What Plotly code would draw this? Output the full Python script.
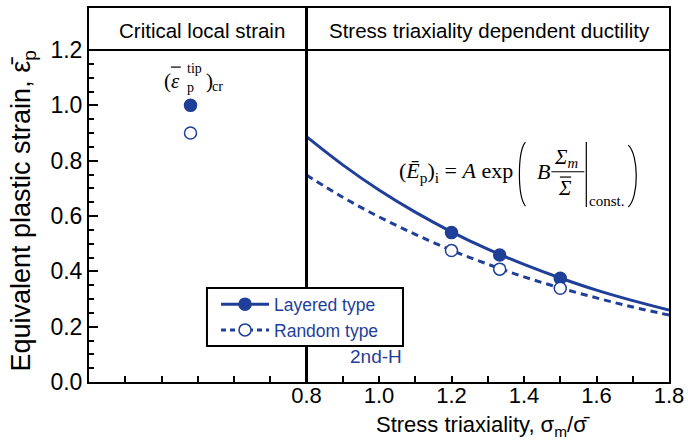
import plotly.graph_objects as go

# ---- data ----
curve_x = [0.8, 0.9, 1.0, 1.1, 1.2, 1.3, 1.4, 1.5, 1.6, 1.7, 1.8]
curve_layered = [0.887, 0.785, 0.694, 0.614, 0.543, 0.480, 0.425, 0.376, 0.332, 0.294, 0.260]
curve_random = [0.748, 0.668, 0.597, 0.534, 0.476, 0.426, 0.380, 0.340, 0.304, 0.271, 0.242]

pts_x = [1.2, 1.333, 1.5]
pts_layered = [0.540, 0.459, 0.375]
pts_random = [0.475, 0.408, 0.339]

crit_x = [0.48]
crit_layered = [1.0]
crit_random = [0.9]

x_tickvals = [0.3, 0.4, 0.5, 0.6, 0.7, 0.8, 0.9, 1.0, 1.1, 1.2, 1.3, 1.4, 1.5, 1.6, 1.7, 1.8]
x_ticktext = ["", "", "", "", "", "0.8", "", "1.0", "", "1.2", "", "1.4", "", "1.6", "", "1.8"]
y_tickvals = [0.0, 0.2, 0.4, 0.6, 0.8, 1.0, 1.2]
y_ticktext = ["0.0", "0.2", "0.4", "0.6", "0.8", "1.0", "1.2"]
y_minor = [0.05, 0.1, 0.15, 0.25, 0.3, 0.35, 0.45, 0.5, 0.55, 0.65, 0.7, 0.75,
           0.85, 0.9, 0.95, 1.05, 1.1, 1.15]

BLUE = "#1f3f98"
SANS = "Liberation Sans, Arial, sans-serif"
SERIF = "Liberation Serif, Times New Roman, serif"
X0, X1, Y0, Y1 = 0.2, 1.8, 0.0, 1.352

fig = go.Figure()
fig.add_trace(go.Scatter(x=curve_x, y=curve_layered, mode="lines", line=dict(color=BLUE, width=3, shape="spline"), showlegend=False))
fig.add_trace(go.Scatter(x=curve_x, y=curve_random, mode="lines", line=dict(color=BLUE, width=3, dash="7px,5px", shape="spline"), showlegend=False))
fig.add_trace(go.Scatter(x=pts_x + crit_x, y=pts_layered + crit_layered, mode="markers",
                         marker=dict(size=12, color=BLUE, line=dict(color=BLUE, width=1.5)), showlegend=False))
fig.add_trace(go.Scatter(x=pts_x + crit_x, y=pts_random + crit_random, mode="markers",
                         marker=dict(size=12, color="white", line=dict(color=BLUE, width=1.5)), showlegend=False))
# legend entries
fig.add_trace(go.Scatter(x=[None], y=[None], mode="lines+markers", name="Layered type",
                         line=dict(color=BLUE, width=3), marker=dict(size=12, color=BLUE, line=dict(color=BLUE, width=1.5))))
fig.add_trace(go.Scatter(x=[None], y=[None], mode="lines+markers", name="Random type",
                         line=dict(color=BLUE, width=3, dash="5px,4px"), marker=dict(size=12, color="white", line=dict(color=BLUE, width=1.5))))

thin = dict(color="black", width=1.2)
shapes = [
    dict(type="line", x0=X0, x1=X1, y0=1.2, y1=1.2, line=dict(color="black", width=2)),
    dict(type="line", x0=0.8, x1=0.8, y0=Y0, y1=Y1, line=dict(color="black", width=3)),
    # legend frame
    dict(type="rect", xref="paper", yref="paper", x0=0.2034, x1=0.5414, y0=0.0963, y1=0.2513,
         fillcolor="white", line=dict(color="black", width=2), layer="above"),
    # overbar of epsilon in critical strain label
    dict(type="line", x0=0.4259, x1=0.4534, y0=1.1384, y1=1.1384, line=thin),
    # formula decorations
    dict(type="path", path="M 1.4039,0.8674 C 1.3818,0.8312 1.3818,0.6722 1.4039,0.6361", line=thin),
    dict(type="path", path="M 1.6876,0.8565 C 1.7171,0.8204 1.7171,0.6686 1.6876,0.6325", line=thin),
    dict(type="line", x0=1.4755, x1=1.5664, y0=0.760, y1=0.760, line=thin),
    dict(type="line", x0=1.4990, x1=1.5300, y0=0.7409, y1=0.7409, line=thin),
    dict(type="line", x0=1.5719, x1=1.5719, y0=0.6325, y1=0.8674, line=thin),
]

ann = []
def A(x, y, text, size, font=SANS, color="black", xanchor="center", **kw):
    ann.append(dict(x=x, y=y, text=text, showarrow=False, xanchor=xanchor, yanchor="middle",
                    font=dict(family=font, size=size, color=color), **kw))

A(0.511, 1.272, "Critical local strain", 20.5)
A(1.305, 1.272, "Stress triaxiality dependent ductility", 20.5)
A(0.993, 0.0904, "2nd-H", 19, color=BLUE)
# critical strain label (stacked sub/superscript)
A(0.400, 1.0878, "(<i>ε</i>", 21, font=SERIF, xanchor="left")
A(0.466, 1.1348, "tip", 14, font=SERIF, xanchor="left")
A(0.466, 1.0661, "p", 14, font=SERIF, xanchor="left")
A(0.516, 1.0878, ")", 21, font=SERIF, xanchor="left")
A(0.534, 1.0698, "cr", 14, font=SERIF, xanchor="left")
# formula
A(1.050, 0.759, "(<i>E\u0304</i><sub>p</sub>)<sub>i</sub> = <i>A</i> exp", 22, font=SERIF, xanchor="left")
A(1.4534, 0.7626, "<i>B</i>", 22, font=SERIF)
A(1.478, 0.8100, "<i>Σ</i><sub><i>m</i></sub>", 21, font=SERIF, xanchor="left")
A(1.5140, 0.7011, "<i>Σ</i>", 21, font=SERIF)
A(1.574, 0.6541, "const.", 15, font=SERIF, xanchor="left")
# axis titles
ann.append(dict(x=1.288, y=-0.1604, xref="x", yref="paper", text="Stress triaxiality, σ<sub>m</sub>/σ\u0304",
                showarrow=False, font=dict(family=SANS, size=22, color="black"), yanchor="bottom"))
ann.append(dict(x=-0.1138, y=0.4585, xref="paper", yref="paper", text="Equivalent plastic strain, ε\u0304<sub>p</sub>",
                showarrow=False, textangle=-90, xanchor="center", yanchor="middle",
                font=dict(family=SANS, size=27, color="black")))

fig.update_layout(
    width=688, height=442,
    margin=dict(l=89, r=19, t=8, b=60),
    plot_bgcolor="white", paper_bgcolor="white",
    shapes=shapes, annotations=ann,
    legend=dict(x=0.219, y=0.256, xanchor="left", yanchor="top",
                bgcolor="rgba(0,0,0,0)", borderwidth=0,
                font=dict(family=SANS, size=17.5, color=BLUE), tracegroupgap=0,
                itemwidth=48),
    xaxis=dict(range=[X0, X1], tickmode="array", tickvals=x_tickvals, ticktext=x_ticktext,
               ticks="inside", ticklen=6, tickwidth=1.5, tickcolor="black",
               showline=True, linecolor="black", linewidth=2, mirror=True,
               showgrid=False, zeroline=False, automargin=False, ticklabelstandoff=-7,
               tickfont=dict(family=SANS, size=22, color="black")),
    yaxis=dict(range=[Y0, Y1], tickmode="array", tickvals=y_tickvals, ticktext=y_ticktext,
               ticks="inside", ticklen=9, tickwidth=1.5, tickcolor="black",
               minor=dict(tickvals=y_minor, ticks="inside", ticklen=5, tickwidth=1.5, tickcolor="black"),
               showline=True, linecolor="black", linewidth=2, mirror=True,
               showgrid=False, zeroline=False, automargin=False,
               tickfont=dict(family=SANS, size=23, color="black")),
)

fig.write_html("out.html")
